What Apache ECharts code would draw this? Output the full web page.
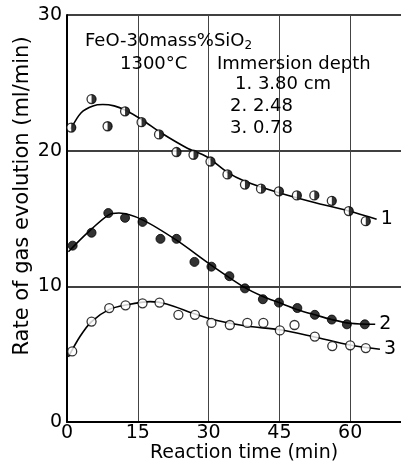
<!DOCTYPE html>
<html>
<head>
<meta charset="utf-8">
<script src="https://cdn.jsdelivr.net/npm/echarts@6/dist/echarts.min.js"></script>
<style>
html,body{margin:0;padding:0;background:#fff;}
#c{width:401px;height:463px;}
</style>
</head>
<body>
<div id="c"></div>
<script>
// Measured points (reaction time, min)
var time1 = [0.9, 5.2, 8.6, 12.3, 15.8, 19.5, 23.2, 26.8, 30.4, 34.0, 37.7, 41.1, 44.9, 48.7, 52.4, 56.1, 59.7, 63.3];
var rate1 = [21.7, 23.8, 21.8, 22.9, 22.1, 21.2, 19.9, 19.7, 19.2, 18.25, 17.5, 17.2, 17.0, 16.7, 16.7, 16.3, 15.55, 14.8];
var time2 = [1.2, 5.2, 8.75, 12.3, 16.0, 19.8, 23.2, 27.0, 30.6, 34.4, 37.7, 41.5, 44.9, 48.8, 52.5, 56.1, 59.3, 63.1];
var rate2 = [13.0, 13.95, 15.4, 15.05, 14.75, 13.5, 13.5, 11.8, 11.45, 10.75, 9.85, 9.05, 8.8, 8.4, 7.9, 7.55, 7.2, 7.2];
var time3 = [1.1, 5.2, 8.95, 12.4, 16.0, 19.6, 23.6, 27.1, 30.6, 34.5, 38.2, 41.6, 45.1, 48.2, 52.5, 56.2, 60.0, 63.3];
var rate3 = [5.2, 7.4, 8.4, 8.6, 8.75, 8.8, 7.9, 7.9, 7.3, 7.15, 7.3, 7.3, 6.75, 7.15, 6.3, 5.6, 5.65, 5.45];

// Fitted curves
var fitT1 = [0.8, 3, 5.5, 7.6, 10, 12.3, 15.8, 20, 25.4, 29.6, 34, 37.7, 44.9, 52.2, 59.7, 65.6];
var fitR1 = [21.6, 22.8, 23.3, 23.4, 23.3, 23.0, 22.3, 21.3, 20.2, 19.55, 18.4, 17.75, 16.9, 16.2, 15.55, 14.95];
var fitT2 = [0.3, 4.2, 8.75, 11, 16, 23.2, 30.6, 37.7, 41.5, 44.9, 48.7, 52.5, 56.1, 60, 65.3];
var fitR2 = [12.55, 13.9, 15.25, 15.4, 14.9, 13.4, 11.55, 9.9, 9.25, 8.8, 8.3, 7.9, 7.55, 7.28, 7.2];
var fitT3 = [0.3, 2.75, 5.2, 8.95, 12.4, 17.6, 21.1, 26.8, 30.6, 37.9, 45.1, 52.2, 60, 66.3];
var fitR3 = [4.8, 6.3, 7.4, 8.3, 8.62, 8.87, 8.7, 8.0, 7.57, 7.07, 6.8, 6.29, 5.67, 5.36];

var curveLabels = ['1', '2', '3'];
var xTicks = [0, 15, 30, 45, 60];
var yTicks = [0, 10, 20, 30];

var legendLines = ['Immersion depth', '1. 3.80 cm', '2. 2.48', '3. 0.78'];

function pairs(t, r) { return t.map(function (v, i) { return [v, r[i]]; }); }

var FONT = 'DejaVu Sans';
var chart = echarts.init(document.getElementById('c'), null, { renderer: 'canvas' });

function curve(t, r, lbl) {
  return {
    type: 'line', data: pairs(t, r), smooth: 0.3, showSymbol: false, z: 2,
    lineStyle: { color: '#000', width: 1.6 },
    endLabel: { show: true, formatter: lbl, color: '#000', fontSize: 19, fontFamily: FONT, distance: 4 },
    silent: true
  };
}

var option = {
  backgroundColor: '#fff',
  animation: false,
  grid: { left: 67, top: 15, right: -20, bottom: 41, containLabel: false, outerBoundsMode: 'none' },
  xAxis: {
    type: 'value', min: 0, max: 75, interval: 15,
    name: 'Reaction time (min)', nameLocation: 'middle', nameGap: 22, nameMoveOverlap: false,
    nameTextStyle: { color: '#000', fontSize: 19, fontFamily: FONT },
    axisLine: { show: true, onZero: false, lineStyle: { color: '#000', width: 2 } },
    axisTick: { show: false },
    axisLabel: { color: '#000', fontSize: 19, fontFamily: FONT, margin: 2,
      formatter: function (v) { return xTicks.indexOf(v) >= 0 ? String(v) : ''; } },
    splitLine: { show: true, lineStyle: { color: '#444', width: 1 } }
  },
  yAxis: {
    type: 'value', min: 0, max: 30, interval: 10,
    name: 'Rate of gas evolution (ml/min)', nameLocation: 'middle', nameGap: 34, nameRotate: 90, nameMoveOverlap: false,
    nameTextStyle: { color: '#000', fontSize: 21, fontFamily: FONT, padding: [0, 0, 0, 45] },
    axisLine: { show: true, lineStyle: { color: '#000', width: 2 } },
    axisTick: { show: false },
    axisLabel: { color: '#000', fontSize: 19, fontFamily: FONT, margin: 5, padding: [3, 0, 0, 0],
      formatter: function (v) { return yTicks.indexOf(v) >= 0 ? String(v) : ''; } },
    splitLine: { show: true, lineStyle: { color: '#000', width: 1.6 } }
  },
  graphic: [
    { type: 'text', left: 85, top: 31, z: 10, style: {
        text: '{a|FeO-30mass%SiO}{s|2}', fill: '#000',
        rich: { a: { fontSize: 18, fontFamily: FONT, lineHeight: 20 },
                s: { fontSize: 12, fontFamily: FONT, lineHeight: 20, padding: [9, 0, 0, 0] } } } },
    { type: 'text', left: 120, top: 55, z: 10, style: { text: '1300°C', font: '18px "DejaVu Sans"', fill: '#000' } },
    { type: 'text', left: 217, top: 55, z: 10, style: { text: legendLines[0], font: '18px "DejaVu Sans"', fill: '#000' } },
    { type: 'text', left: 235, top: 75, z: 10, style: { text: legendLines[1], font: '18px "DejaVu Sans"', fill: '#000' } },
    { type: 'text', left: 230, top: 97, z: 10, style: { text: legendLines[2], font: '18px "DejaVu Sans"', fill: '#000' } },
    { type: 'text', left: 230, top: 119, z: 10, style: { text: legendLines[3], font: '18px "DejaVu Sans"', fill: '#000' } }
  ],
  series: [
    curve(fitT1, fitR1, curveLabels[0]),
    curve(fitT2, fitR2, curveLabels[1]),
    curve(fitT3, fitR3, curveLabels[2]),
    { type: 'scatter', data: pairs(time1, rate1), symbol: 'circle', symbolSize: 9, z: 3,
      itemStyle: { color: '#fff', borderColor: '#000', borderWidth: 1.3 } },
    { type: 'scatter', data: pairs(time1, rate1), symbol: 'path://M0,0 A1,1 0 0,1 0,2 Z',
      symbolSize: [4.5, 9], symbolOffset: [2.25, 0], z: 4, itemStyle: { color: '#000' } },
    { type: 'scatter', data: pairs(time2, rate2), symbol: 'circle', symbolSize: 9, z: 3,
      itemStyle: { color: '#000', borderColor: '#000', borderWidth: 1 } },
    { type: 'scatter', data: pairs(time3, rate3), symbol: 'circle', symbolSize: 9, z: 3,
      itemStyle: { color: '#fff', borderColor: '#000', borderWidth: 1.3 } }
  ]
};
chart.setOption(option);
</script>
</body>
</html>
